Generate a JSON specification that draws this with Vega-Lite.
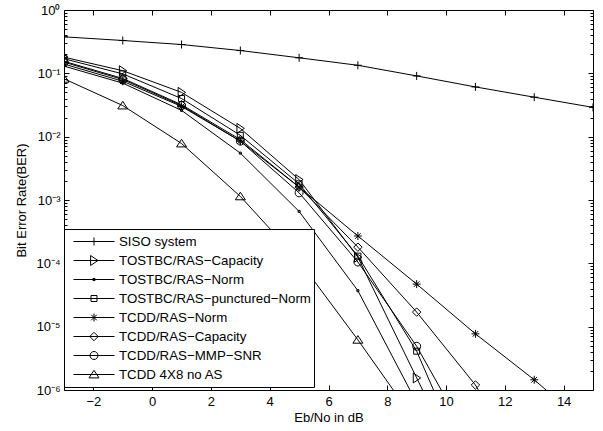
{
  "$schema": "https://vega.github.io/schema/vega-lite/v6.json",
  "width": 529,
  "height": 380,
  "autosize": {"type": "none"},
  "padding": {"left": 64, "top": 10, "right": 10, "bottom": 41},
  "background": "white",
  "config": {
    "view": {"stroke": "black", "strokeWidth": 1},
    "axis": {
      "domain": false,
      "grid": false,
      "labelFont": "Liberation Sans",
      "labelFontSize": 13,
      "labelColor": "black",
      "titleFont": "Liberation Sans",
      "titleFontSize": 13,
      "titleFontWeight": "normal",
      "titleColor": "black",
      "tickColor": "black",
      "tickWidth": 1
    },
    "legend": {
      "labelFont": "Liberation Sans",
      "labelFontSize": 13.3,
      "labelColor": "black",
      "labelLimit": 0
    }
  },
  "data": {
    "values": [
      {"series": "SISO system", "x": -3, "ber": 0.377},
      {"series": "SISO system", "x": -1, "ber": 0.33},
      {"series": "SISO system", "x": 1, "ber": 0.285},
      {"series": "SISO system", "x": 3, "ber": 0.229},
      {"series": "SISO system", "x": 5, "ber": 0.176},
      {"series": "SISO system", "x": 7, "ber": 0.134},
      {"series": "SISO system", "x": 9, "ber": 0.091},
      {"series": "SISO system", "x": 11, "ber": 0.061},
      {"series": "SISO system", "x": 13, "ber": 0.042},
      {"series": "SISO system", "x": 15, "ber": 0.029},
      {"series": "TOSTBC/RAS−Capacity", "x": -3, "ber": 0.18},
      {"series": "TOSTBC/RAS−Capacity", "x": -1, "ber": 0.11},
      {"series": "TOSTBC/RAS−Capacity", "x": 1, "ber": 0.05},
      {"series": "TOSTBC/RAS−Capacity", "x": 3, "ber": 0.0135},
      {"series": "TOSTBC/RAS−Capacity", "x": 5, "ber": 0.0021},
      {"series": "TOSTBC/RAS−Capacity", "x": 7, "ber": 0.000125},
      {"series": "TOSTBC/RAS−Capacity", "x": 9, "ber": 0.00000155},
      {"series": "TOSTBC/RAS−Capacity", "x": 11, "ber": 0.00000002},
      {"series": "TOSTBC/RAS−Norm", "x": -3, "ber": 0.13},
      {"series": "TOSTBC/RAS−Norm", "x": -1, "ber": 0.07},
      {"series": "TOSTBC/RAS−Norm", "x": 1, "ber": 0.026},
      {"series": "TOSTBC/RAS−Norm", "x": 3, "ber": 0.0055},
      {"series": "TOSTBC/RAS−Norm", "x": 5, "ber": 0.00066},
      {"series": "TOSTBC/RAS−Norm", "x": 7, "ber": 0.000037},
      {"series": "TOSTBC/RAS−Norm", "x": 9, "ber": 0.00000063},
      {"series": "TOSTBC/RAS−punctured−Norm", "x": -3, "ber": 0.17},
      {"series": "TOSTBC/RAS−punctured−Norm", "x": -1, "ber": 0.098},
      {"series": "TOSTBC/RAS−punctured−Norm", "x": 1, "ber": 0.04},
      {"series": "TOSTBC/RAS−punctured−Norm", "x": 3, "ber": 0.0105},
      {"series": "TOSTBC/RAS−punctured−Norm", "x": 5, "ber": 0.0018},
      {"series": "TOSTBC/RAS−punctured−Norm", "x": 7, "ber": 0.00013},
      {"series": "TOSTBC/RAS−punctured−Norm", "x": 9, "ber": 0.0000041},
      {"series": "TOSTBC/RAS−punctured−Norm", "x": 11, "ber": 0.00000003},
      {"series": "TCDD/RAS−Norm", "x": -3, "ber": 0.14},
      {"series": "TCDD/RAS−Norm", "x": -1, "ber": 0.075},
      {"series": "TCDD/RAS−Norm", "x": 1, "ber": 0.03},
      {"series": "TCDD/RAS−Norm", "x": 3, "ber": 0.0085},
      {"series": "TCDD/RAS−Norm", "x": 5, "ber": 0.0016},
      {"series": "TCDD/RAS−Norm", "x": 7, "ber": 0.00027},
      {"series": "TCDD/RAS−Norm", "x": 9, "ber": 0.000047},
      {"series": "TCDD/RAS−Norm", "x": 11, "ber": 0.0000077},
      {"series": "TCDD/RAS−Norm", "x": 13, "ber": 0.00000145},
      {"series": "TCDD/RAS−Norm", "x": 15, "ber": 0.00000023},
      {"series": "TCDD/RAS−Capacity", "x": -3, "ber": 0.155},
      {"series": "TCDD/RAS−Capacity", "x": -1, "ber": 0.083},
      {"series": "TCDD/RAS−Capacity", "x": 1, "ber": 0.032},
      {"series": "TCDD/RAS−Capacity", "x": 3, "ber": 0.009},
      {"series": "TCDD/RAS−Capacity", "x": 5, "ber": 0.0016},
      {"series": "TCDD/RAS−Capacity", "x": 7, "ber": 0.00018},
      {"series": "TCDD/RAS−Capacity", "x": 9, "ber": 0.000017},
      {"series": "TCDD/RAS−Capacity", "x": 11, "ber": 0.0000012},
      {"series": "TCDD/RAS−Capacity", "x": 13, "ber": 0.00000003},
      {"series": "TCDD/RAS−MMP−SNR", "x": -3, "ber": 0.15},
      {"series": "TCDD/RAS−MMP−SNR", "x": -1, "ber": 0.08},
      {"series": "TCDD/RAS−MMP−SNR", "x": 1, "ber": 0.031},
      {"series": "TCDD/RAS−MMP−SNR", "x": 3, "ber": 0.0085},
      {"series": "TCDD/RAS−MMP−SNR", "x": 5, "ber": 0.0013},
      {"series": "TCDD/RAS−MMP−SNR", "x": 7, "ber": 0.000105},
      {"series": "TCDD/RAS−MMP−SNR", "x": 9, "ber": 0.0000049},
      {"series": "TCDD/RAS−MMP−SNR", "x": 11, "ber": 0.00000011},
      {"series": "TCDD 4X8 no AS", "x": -3, "ber": 0.082},
      {"series": "TCDD 4X8 no AS", "x": -1, "ber": 0.031},
      {"series": "TCDD 4X8 no AS", "x": 1, "ber": 0.0078},
      {"series": "TCDD 4X8 no AS", "x": 3, "ber": 0.00114},
      {"series": "TCDD 4X8 no AS", "x": 5, "ber": 0.00011},
      {"series": "TCDD 4X8 no AS", "x": 7, "ber": 0.0000062},
      {"series": "TCDD 4X8 no AS", "x": 9, "ber": 0.0000003}
    ]
  },
  "resolve": {"axis": {"x": "independent", "y": "independent"}, "scale": {"shape": "independent"}},
  "layer": [
    {
      "mark": {"type": "line", "color": "black", "strokeWidth": 1, "clip": true},
      "encoding": {
        "x": {"field": "x", "type": "quantitative", "scale": {"domain": [-3, 15], "nice": false, "zero": false},
          "axis": {"orient": "bottom", "values": [-2, 0, 2, 4, 6, 8, 10, 12, 14], "ticks": false, "tickSize": 0, "labelPadding": 5, "title": "Eb/No in dB", "titlePadding": 3}},
        "y": {"field": "ber", "type": "quantitative", "scale": {"type": "log", "domain": [0.000001, 1], "nice": false},
          "axis": {"orient": "left", "values": [1, 0.1, 0.01, 0.001, 0.0001, 0.00001, 0.000001], "ticks": false, "tickSize": 0, "labelPadding": 4,
            "labelExpr": "'10' + ['⁰','⁻¹','⁻²','⁻³','⁻⁴','⁻⁵','⁻⁶'][round(-log(datum.value)/LN10)]",
            "title": "Bit Error Rate(BER)", "titlePadding": 7}},
        "detail": {"field": "series", "type": "nominal"}
      }
    },
    {
      "mark": {"type": "point", "filled": false, "size": 64, "strokeWidth": 1, "color": "black", "opacity": 1, "clip": true},
      "encoding": {
        "x": {"field": "x", "type": "quantitative", "scale": {"domain": [-3, 15], "nice": false, "zero": false},
          "axis": {"orient": "bottom", "values": [-2, 0, 2, 4, 6, 8, 10, 12, 14], "labels": false, "tickSize": -5, "title": null}},
        "y": {"field": "ber", "type": "quantitative", "scale": {"type": "log", "domain": [0.000001, 1], "nice": false},
          "axis": {"orient": "left", "values": [1, 0.1, 0.01, 0.001, 0.0001, 0.00001, 0.000001], "labels": false, "tickSize": -5, "title": null}},
        "shape": {
          "field": "series", "type": "nominal",
          "scale": {
            "domain": ["SISO system", "TOSTBC/RAS−Capacity", "TOSTBC/RAS−Norm", "TOSTBC/RAS−punctured−Norm", "TCDD/RAS−Norm", "TCDD/RAS−Capacity", "TCDD/RAS−MMP−SNR", "TCDD 4X8 no AS"],
            "range": [
              "M-1,0L1,0M0,-1L0,1",
              "M1,0L-0.85,-1.25L-0.85,1.25Z",
              "M-0.25,-0.25L0.25,-0.25L0.25,0.25L-0.25,0.25Z",
              "M-0.75,-0.75L0.75,-0.75L0.75,0.75L-0.75,0.75Z",
              "M-1,0L1,0M0,-1L0,1M-0.7,-0.7L0.7,0.7M-0.7,0.7L0.7,-0.7",
              "M0,-1.05L1.05,0L0,1.05L-1.05,0Z",
              "M1,0A1,1,0,1,1,-1,0A1,1,0,1,1,1,0Z",
              "M0,-1.05L1.25,0.85L-1.25,0.85Z"
            ]
          },
          "legend": null
        }
      }
    },
    {
      "mark": {"type": "line", "strokeOpacity": 0, "clip": true},
      "encoding": {
        "x": {"field": "x", "type": "quantitative", "scale": {"domain": [-3, 15], "nice": false, "zero": false},
          "axis": {"orient": "top", "values": [-2, 0, 2, 4, 6, 8, 10, 12, 14], "labels": false, "tickSize": -5, "title": null}},
        "y": {"field": "ber", "type": "quantitative", "scale": {"type": "log", "domain": [0.000001, 1], "nice": false},
          "axis": {"orient": "right", "values": [1, 0.1, 0.01, 0.001, 0.0001, 0.00001, 0.000001], "labels": false, "tickSize": -5, "title": null}},
        "detail": {"field": "series", "type": "nominal"}
      }
    },
    {
      "mark": {"type": "line", "strokeOpacity": 0, "clip": true},
      "encoding": {
        "x": {"field": "x", "type": "quantitative", "scale": {"domain": [-3, 15], "nice": false, "zero": false}, "axis": null},
        "y": {"field": "ber", "type": "quantitative", "scale": {"type": "log", "domain": [0.000001, 1], "nice": false},
          "axis": {"orient": "left", "labels": false, "tickSize": -3, "title": null,
            "values": [0.000002, 0.000003, 0.000004, 0.000005, 0.000006, 0.000007, 0.000008, 0.000009, 0.00002, 0.00003, 0.00004, 0.00005, 0.00006, 0.00007, 0.00008, 0.00009, 0.0002, 0.0003, 0.0004, 0.0005, 0.0006, 0.0007, 0.0008, 0.0009, 0.002, 0.003, 0.004, 0.005, 0.006, 0.007, 0.008, 0.009, 0.02, 0.03, 0.04, 0.05, 0.06, 0.07, 0.08, 0.09, 0.2, 0.3, 0.4, 0.5, 0.6, 0.7, 0.8, 0.9]}},
        "detail": {"field": "series", "type": "nominal"}
      }
    },
    {
      "mark": {"type": "line", "strokeOpacity": 0, "clip": true},
      "encoding": {
        "x": {"field": "x", "type": "quantitative", "scale": {"domain": [-3, 15], "nice": false, "zero": false}, "axis": null},
        "y": {"field": "ber", "type": "quantitative", "scale": {"type": "log", "domain": [0.000001, 1], "nice": false},
          "axis": {"orient": "right", "labels": false, "tickSize": -3, "title": null,
            "values": [0.000002, 0.000003, 0.000004, 0.000005, 0.000006, 0.000007, 0.000008, 0.000009, 0.00002, 0.00003, 0.00004, 0.00005, 0.00006, 0.00007, 0.00008, 0.00009, 0.0002, 0.0003, 0.0004, 0.0005, 0.0006, 0.0007, 0.0008, 0.0009, 0.002, 0.003, 0.004, 0.005, 0.006, 0.007, 0.008, 0.009, 0.02, 0.03, 0.04, 0.05, 0.06, 0.07, 0.08, 0.09, 0.2, 0.3, 0.4, 0.5, 0.6, 0.7, 0.8, 0.9]}},
        "detail": {"field": "series", "type": "nominal"}
      }
    },
    {
      "transform": [{"filter": "datum.x > 100"}],
      "mark": {"type": "point", "filled": false, "size": 1681, "strokeWidth": 1, "color": "black", "opacity": 1, "clip": true},
      "encoding": {
        "x": {"field": "x", "type": "quantitative", "scale": {"domain": [-3, 15], "nice": false, "zero": false}, "axis": null},
        "y": {"field": "ber", "type": "quantitative", "scale": {"type": "log", "domain": [0.000001, 1], "nice": false}, "axis": null},
        "shape": {
          "field": "series", "type": "nominal",
          "scale": {
            "domain": ["SISO system", "TOSTBC/RAS−Capacity", "TOSTBC/RAS−Norm", "TOSTBC/RAS−punctured−Norm", "TCDD/RAS−Norm", "TCDD/RAS−Capacity", "TCDD/RAS−MMP−SNR", "TCDD 4X8 no AS"],
            "range": [
              "M-1,0L1,0M0,-0.195L0,0.195",
              "M-1,0L1,0M0.195,0L-0.166,-0.244L-0.166,0.244Z",
              "M-1,0L1,0M-0.05,-0.05L0.05,-0.05L0.05,0.05L-0.05,0.05Z",
              "M-1,0L1,0M-0.146,-0.146L0.146,-0.146L0.146,0.146L-0.146,0.146Z",
              "M-1,0L1,0M0,-0.195L0,0.195M-0.137,-0.137L0.137,0.137M-0.137,0.137L0.137,-0.137",
              "M-1,0L1,0M0,-0.205L0.205,0L0,0.205L-0.205,0Z",
              "M-1,0L1,0M0.195,0A0.195,0.195,0,1,1,-0.195,0A0.195,0.195,0,1,1,0.195,0Z",
              "M-1,0L1,0M0,-0.205L0.244,0.166L-0.244,0.166Z"
            ]
          },
          "legend": {
            "orient": "none",
            "legendX": 0,
            "legendY": 219,
            "title": null,
            "padding": 3,
            "strokeColor": "black",
            "fillColor": "white",
            "symbolSize": 1681,
            "symbolStrokeColor": "black",
            "symbolStrokeWidth": 1,
            "symbolFillColor": "transparent",
            "symbolOffset": 6,
            "labelOffset": 4,
            "clipHeight": 19,
            "rowPadding": 0
          }
        }
      }
    }
  ]
}
